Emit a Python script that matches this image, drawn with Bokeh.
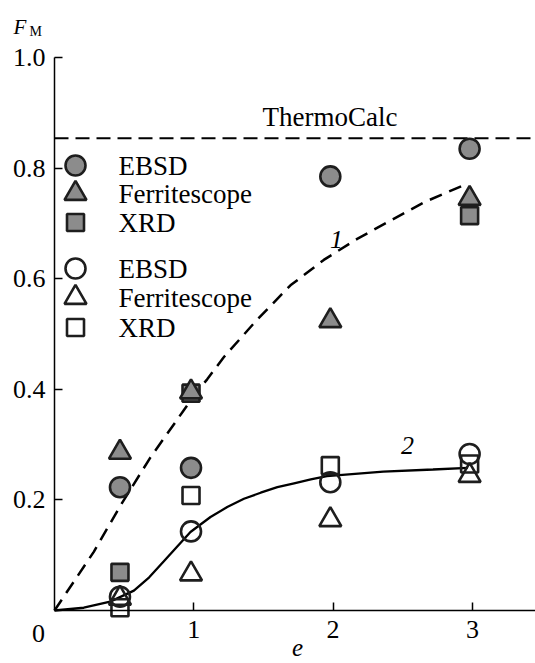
from bokeh.plotting import figure
from bokeh.models import Range1d, FixedTicker, Label, PrintfTickFormatter, LinearAxis
from bokeh.embed import file_html
from bokeh.resources import INLINE
from bokeh.core.properties import value

# ---- data ----
strain = [0.47, 0.98, 1.98, 2.98]
ebsd_filled = [0.223, 0.258, 0.785, 0.835]
ferri_filled = [0.286, 0.395, 0.524, 0.745]
xrd_filled_x = [0.47, 0.98, 2.98]
xrd_filled = [0.069, 0.393, 0.714]
ebsd_open = [0.025, 0.143, 0.232, 0.283]
ferri_open = [0.022, 0.066, 0.164, 0.244]
xrd_open = [0.005, 0.208, 0.262, 0.265]
thermocalc = 0.854

curve1_x = [0.0, 0.282, 0.474, 0.689, 0.928, 1.024, 1.096, 1.215, 1.455, 1.694,
            1.933, 2.173, 2.412, 2.651, 2.927]
curve1_y = [0.0, 0.106, 0.19, 0.277, 0.362, 0.396, 0.418, 0.458, 0.526, 0.588,
            0.634, 0.672, 0.705, 0.738, 0.768]
curve2_x = [0.0, 0.21, 0.40, 0.57, 0.68, 0.785, 0.976, 1.12, 1.24, 1.36, 1.48,
            1.60, 1.72, 1.84, 1.955, 2.36, 2.717, 2.967]
curve2_y = [0.0, 0.005, 0.016, 0.036, 0.060, 0.089, 0.142, 0.169, 0.187, 0.202,
            0.213, 0.223, 0.230, 0.237, 0.243, 0.251, 0.255, 0.258]

legend_labels = ["EBSD", "Ferritescope", "XRD"]
x_ticks = [1, 2, 3]
y_ticks = [0.2, 0.4, 0.6, 0.8, 1.0]

FONT = "Liberation Serif"
GRAY = "#8c8c8c"
EDGE = "#1e1e1e"

# layout: frame covers the whole canvas; axes are fixed at the origin
PX_X = 139.3   # pixels per unit e
PX_Y = 553.0   # pixels per unit F_M
X0, Y0 = 54, 610
W, H = 535, 663
X_END = (W - X0) / PX_X

p = figure(width=W, height=H, output_backend="svg", toolbar_location=None,
           x_range=Range1d(-X0 / PX_X, X_END),
           y_range=Range1d(-(H - Y0) / PX_Y, Y0 / PX_Y),
           x_axis_location=None, y_axis_location=None,
           min_border=0)
p.outline_line_color = None
p.grid.visible = False
p.background_fill_color = "white"

xaxis = LinearAxis(fixed_location=0, bounds=(0, X_END + 0.01),
                   ticker=FixedTicker(ticks=x_ticks))
yaxis = LinearAxis(fixed_location=0, bounds=(0, 1.0),
                   ticker=FixedTicker(ticks=y_ticks),
                   formatter=PrintfTickFormatter(format="%.1f"))
for ax in (xaxis, yaxis):
    ax.axis_line_width = 1.5
    ax.axis_line_color = "black"
    ax.major_tick_in = 8
    ax.major_tick_out = 0
    ax.major_tick_line_width = 1.5
    ax.minor_tick_line_color = None
    ax.major_label_text_font = FONT
    ax.major_label_text_font_size = "26px"
    ax.major_label_text_color = "black"
xaxis.major_label_standoff = 10
yaxis.major_label_standoff = 9
p.add_layout(xaxis, "below")
p.add_layout(yaxis, "left")

# ThermoCalc level (from the y axis to the right edge)
p.line([0, X_END + 0.05], [thermocalc, thermocalc], line_color="black",
       line_width=2.2, line_dash="14 7")

# curves
p.line(curve1_x, curve1_y, line_color="black", line_width=2.5, line_dash="13 8")
p.line(curve2_x, curve2_y, line_color="black", line_width=2.3)

mk = dict(line_color=EDGE, line_width=2.6)
# filled markers
p.scatter(xrd_filled_x, xrd_filled, marker="square", size=17, fill_color=GRAY, **mk)
p.scatter(strain, ferri_filled, marker="triangle", size=22, fill_color=GRAY, **mk)
p.scatter(strain, ebsd_filled, marker="circle", size=20, fill_color=GRAY, **mk)
# open markers
p.scatter(strain, xrd_open, marker="square", size=17, fill_color=None, **mk)
p.scatter(strain, ferri_open, marker="triangle", size=22, fill_color=None, **mk)
p.scatter(strain, ebsd_open, marker="circle", size=20, fill_color=None, **mk)

# manual legend (screen layout converted to plot units)
leg_x = (75 - X0) / PX_X
leg_tx = (118 - X0) / PX_X
rows_f = [(Y0 - py) / PX_Y for py in (165, 193, 222)]
rows_o = [(Y0 - py) / PX_Y for py in (268, 297, 327)]
markers = ["circle", "triangle", "square"]
sizes = [20, 22, 17]
for i in range(3):
    p.scatter([leg_x], [rows_f[i]], marker=markers[i], size=sizes[i], fill_color=GRAY, **mk)
    p.scatter([leg_x], [rows_o[i]], marker=markers[i], size=sizes[i], fill_color=None, **mk)
p.text(x=[leg_tx] * 6, y=rows_f + rows_o, text=legend_labels * 2,
       text_font=value(FONT), text_font_size="27px", text_baseline="middle",
       text_align="left", text_color="black")

# annotations
p.text(x=[(262 - X0) / PX_X], y=[(Y0 - 116) / PX_Y], text=["ThermoCalc"],
       text_font=value(FONT), text_font_size="27px", text_baseline="middle",
       text_align="left", text_color="black")
p.text(x=[(336 - X0) / PX_X, (407 - X0) / PX_X],
       y=[(Y0 - 239) / PX_Y, (Y0 - 445) / PX_Y], text=["1", "2"],
       text_font=value(FONT), text_font_size="26px", text_font_style="italic",
       text_baseline="middle", text_align="center", text_color="black")

def lbl(text, px, py, size, style="normal", align="center", baseline="middle"):
    p.add_layout(Label(x=(px - X0) / PX_X, y=(Y0 - py) / PX_Y, text=text,
                       text_font=FONT, text_font_size=size, text_font_style=style,
                       text_align=align, text_baseline=baseline, text_color="black"))

lbl("0", 38, 633, "26px")
lbl("e", 297, 647, "25px", style="italic")
lbl("F", 13, 26, "21px", style="italic", align="left")
lbl("M", 29, 31, "14px", align="left")

open("out.html", "w").write(file_html(p, INLINE))
